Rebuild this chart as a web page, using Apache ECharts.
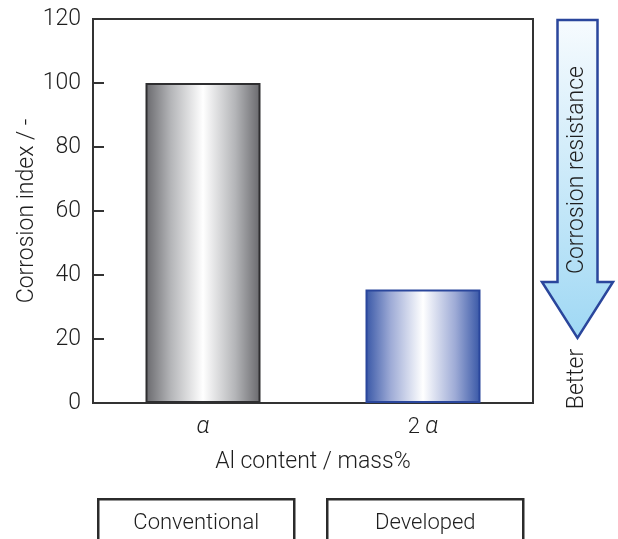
<!DOCTYPE html>
<html>
<head>
<meta charset="utf-8">
<script src="https://cdn.jsdelivr.net/npm/echarts@6/dist/echarts.min.js"></script>
<style>
  html, body { margin: 0; padding: 0; background: #fff; }
  #chart { width: 618px; height: 539px; }
</style>
</head>
<body>
<div id="chart"></div>
<script>
// Al content levels and the measured corrosion index for each
const categories = ['α', '2 α'];
const corrosionIndex = [100, 35.5];
const materialNames = ['Conventional', 'Developed'];
const yTicks = { min: 0, max: 120, interval: 20 };

const FONT = 'Roboto, "Liberation Sans", sans-serif';
const INK = '#333333';
const TEXT = '#1e1e1e';

function barGradient(edge, mid) {
  return new echarts.graphic.LinearGradient(0, 0, 1, 0, [
    { offset: 0, color: edge },
    { offset: 0.22, color: mid },
    { offset: 0.5, color: '#ffffff' },
    { offset: 0.78, color: mid },
    { offset: 1, color: edge }
  ]);
}

const barStyles = [
  { fill: barGradient('#68686c', '#b4b5b8'), border: '#2e2e30' },
  { fill: barGradient('#3756a6', '#9eabd6'), border: '#2a469c' }
];

const chart = echarts.init(document.getElementById('chart'), null, { renderer: 'canvas' });

// Downward arrow at the right: corrosion resistance gets better toward the bottom
const arrowX = 577.5;
const arrowPoints = [
  [557.5, 20], [597.5, 20], [597.5, 282], [613, 282],
  [arrowX, 338], [542, 282], [557.5, 282]
];

// Material boxes under the axis title
const boxes = materialNames.map((name, i) => ({
  type: 'group',
  left: i === 0 ? 97 : 326,
  top: 498,
  children: [
    {
      type: 'rect',
      shape: { x: 0, y: 0, width: 196, height: 60 },
      style: { fill: '#fff', stroke: '#2b2b2b', lineWidth: 2.5 }
    },
    {
      type: 'text',
      x: 98, y: 24,
      style: {
        text: name, fill: TEXT, font: '300 22px ' + FONT,
        align: 'center', verticalAlign: 'middle'
      }
    }
  ]
}));

chart.setOption({
  animation: false,
  backgroundColor: '#ffffff',
  grid: {
    left: 93, right: 85, top: 19, bottom: 136,
    show: true, borderColor: INK, borderWidth: 2, backgroundColor: 'transparent'
  },
  xAxis: {
    type: 'category',
    data: categories,
    boundaryGap: true,
    axisLine: { show: true, lineStyle: { color: INK, width: 2 } },
    axisTick: { show: false },
    axisLabel: {
      margin: 12,
      color: TEXT,
      formatter: (v) => v.replace(/α/g, '{a|α}'),
      fontSize: 22,
      fontWeight: 300,
      fontFamily: FONT,
      rich: {
        a: {
          fontSize: 24,
          fontStyle: 'italic',
          fontWeight: 300,
          fontFamily: FONT,
          color: TEXT
        }
      }
    },
    name: 'Al content / mass%',
    nameLocation: 'middle',
    nameGap: 48,
    nameTextStyle: { color: TEXT, fontSize: 23, fontWeight: 300, fontFamily: FONT }
  },
  yAxis: {
    type: 'value',
    min: yTicks.min, max: yTicks.max, interval: yTicks.interval,
    splitLine: { show: false },
    axisLine: { show: true, lineStyle: { color: INK, width: 2 } },
    axisTick: { show: true, inside: true, length: 11, lineStyle: { color: INK, width: 2 } },
    axisLabel: { margin: 12, color: TEXT, fontSize: 23, fontWeight: 300, fontFamily: FONT },
    name: 'Corrosion index / -',
    nameLocation: 'middle',
    nameMoveOverlap: false,
    nameGap: 54,
    nameTextStyle: { color: TEXT, fontSize: 23, fontWeight: 300, fontFamily: FONT }
  },
  series: [{
    type: 'bar',
    barWidth: 115,
    data: corrosionIndex.map((v, i) => ({
      value: v,
      itemStyle: {
        color: barStyles[i].fill,
        borderColor: barStyles[i].border,
        borderWidth: 2
      }
    }))
  }],
  graphic: [
    {
      type: 'polygon',
      shape: { points: arrowPoints },
      style: {
        fill: new echarts.graphic.LinearGradient(0, 0, 0, 1, [
          { offset: 0, color: '#f7fbfe' },
          { offset: 1, color: '#9fd8f4' }
        ]),
        stroke: '#2a469c',
        lineWidth: 2.5,
        lineJoin: 'miter'
      }
    },
    {
      type: 'text',
      x: arrowX, y: 170,
      rotation: Math.PI / 2,
      style: {
        text: 'Corrosion resistance', fill: TEXT, font: '300 23px ' + FONT,
        align: 'center', verticalAlign: 'middle'
      }
    },
    {
      type: 'text',
      x: arrowX, y: 379,
      rotation: Math.PI / 2,
      style: {
        text: 'Better', fill: TEXT, font: '300 23px ' + FONT,
        align: 'center', verticalAlign: 'middle'
      }
    }
  ].concat(boxes)
});
</script>
</body>
</html>
